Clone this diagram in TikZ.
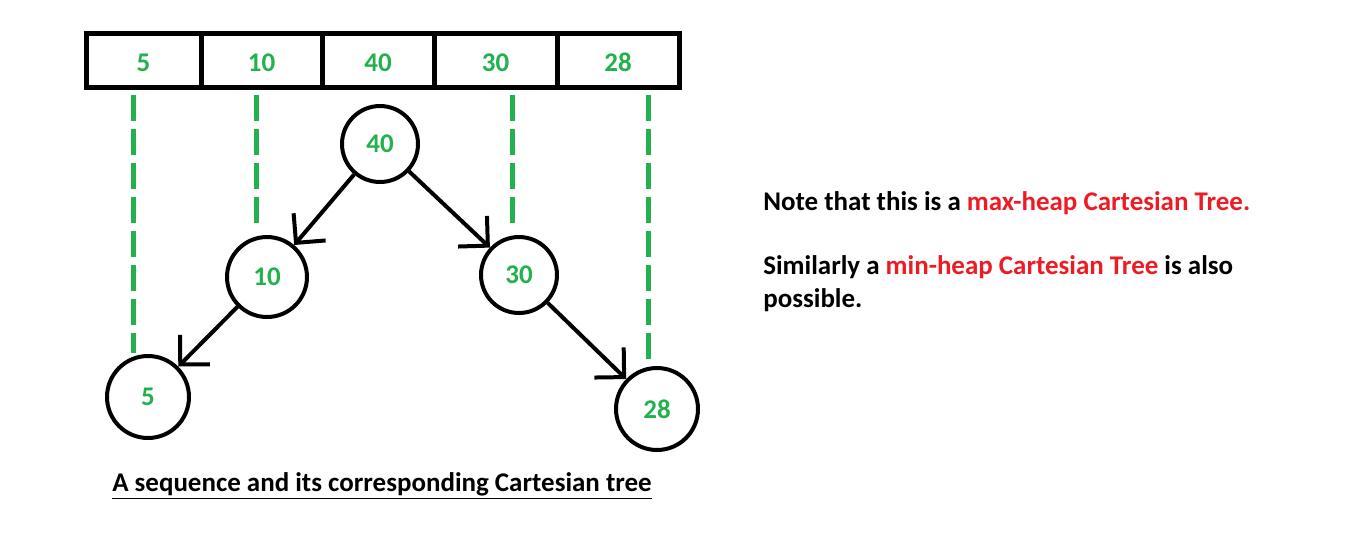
\documentclass[tikz,border=0pt]{standalone}
\usepackage{fontspec}
\setmainfont{Carlito}
\usetikzlibrary{arrows.meta}
\definecolor{paintgreen}{RGB}{34,177,76}
\definecolor{paintred}{RGB}{237,28,36}
\newcommand{\labelfont}{\bfseries\fontsize{15.35}{18.6}\selectfont}
\begin{document}
\begin{tikzpicture}[x=0.02cm,y=-0.02cm,
	cell/.style={draw,line width=0.1cm,minimum height=1.08cm,inner sep=0pt,text height=0.47cm,text=paintgreen,font=\labelfont},
	key/.style={circle,draw,line width=0.08cm,inner sep=0pt,text=paintgreen,font=\labelfont},
	edge/.style={line width=0.08cm,-{Straight Barb[length=0.42cm,width=0.84cm]}},
	guide/.style={paintgreen,line width=0.1cm,dash pattern=on 0.52cm off 0.16cm},
	remark/.style={inner sep=0pt,font=\labelfont}]
	\useasboundingbox (0,0) rectangle (1357,556);
	
	\foreach \xa/\xb/\v [count=\i] in {86/201/5,201/322/10,322/434/40,434/557/30,557/679/28}
	\node[cell,minimum width={(\xb-\xa)*0.02cm}] (c\i) at ({(\xa+\xb)/2},60) {\v};
	
	\foreach \gx/\gb [count=\i] in {133/353,256/228,512/229,648/367}
	{
		\coordinate (gtop\i) at (\gx,95);
		\coordinate (gbot\i) at (\gx,\gb);
		\draw[guide] (gtop\i) -- (gbot\i);
	}
	
	\node[key,minimum size=1.52cm] (n40) at (380,144) {40};
	\node[key,minimum size=1.6cm] (n10) at (267,277) {10};
	\node[key,minimum size=1.64cm] (n5) at (148,397) {5};
	\node[key,minimum size=1.52cm] (n30) at (519,275) {30};
	\node[key,minimum size=1.64cm] (n28) at (657,409) {28};
	
	\draw[edge] (n40) -- (n10);
	\draw[edge] (n40) -- (n30);
	\draw[edge] (n10) -- (n5);
	\draw[edge] (n30) -- (n28);
	
	\node[remark,anchor=base] (caption) at (382,491) {\underline{A sequence and its corresponding Cartesian tree}};
	\node[remark,anchor=base west] (note) at (763,210) {Note that this is a \textcolor{paintred}{max-heap Cartesian Tree.}};
	\node[remark,anchor=base west,align=left] (also) at (763,307) {Similarly a \textcolor{paintred}{min-heap Cartesian Tree} is also\\possible.};
\end{tikzpicture}
\end{document}
